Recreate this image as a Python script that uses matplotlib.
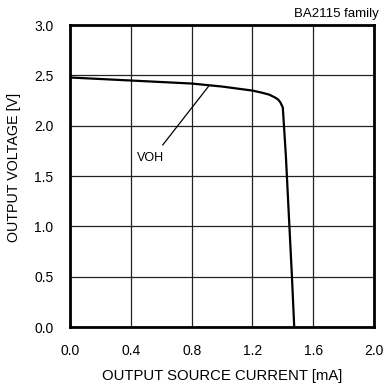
import matplotlib
matplotlib.use('Agg')
import matplotlib.pyplot as plt

plt.rcParams['font.family'] = ['Liberation Sans', 'DejaVu Sans']

# VOH curve
current = [0.0, 0.2, 0.4, 0.6, 0.8, 1.0, 1.1, 1.2, 1.26, 1.31, 1.35, 1.37, 1.385, 1.40, 1.42, 1.44, 1.46, 1.475]
voltage = [2.48, 2.465, 2.45, 2.435, 2.42, 2.39, 2.37, 2.35, 2.33, 2.31, 2.28, 2.26, 2.23, 2.18, 1.7, 1.1, 0.5, 0.0]

xticks = [0.0, 0.4, 0.8, 1.2, 1.6, 2.0]
yticks = [0.0, 0.5, 1.0, 1.5, 2.0, 2.5, 3.0]

fig = plt.figure(figsize=(3.83, 3.85), dpi=100)
ax = fig.add_axes([0.183, 0.1506, 0.7935, 0.784])

ax.plot(current, voltage, color='black', lw=1.6, solid_capstyle='butt')

ax.set_xlim(0, 2.0)
ax.set_ylim(0, 3.0)
ax.set_xticks(xticks)
ax.set_yticks(yticks)
ax.set_xticklabels(['%.1f' % v for v in xticks])
ax.set_yticklabels(['%.1f' % v for v in yticks])
ax.tick_params(length=0, labelsize=10, pad=12)
ax.grid(True, color='#222222', lw=0.9)
for s in ax.spines.values():
    s.set_linewidth(2.0)

ax.set_xlabel('OUTPUT SOURCE CURRENT [mA]', fontsize=10.7, va='center')
ax.set_ylabel('OUTPUT VOLTAGE [V]', fontsize=10.3, va='center')
ax.xaxis.set_label_coords(0.5, -0.162)
ax.yaxis.set_label_coords(-0.185, 0.528)

# label
ax.plot([0.61, 0.91], [1.81, 2.39], color='black', lw=0.9)
ax.text(0.53, 1.68, 'VOH', fontsize=9, ha='center', va='center')

fig.text(0.99, 0.963, 'BA2115 family', fontsize=9.5, ha='right', va='center')

plt.savefig('out.png', dpi=100)
